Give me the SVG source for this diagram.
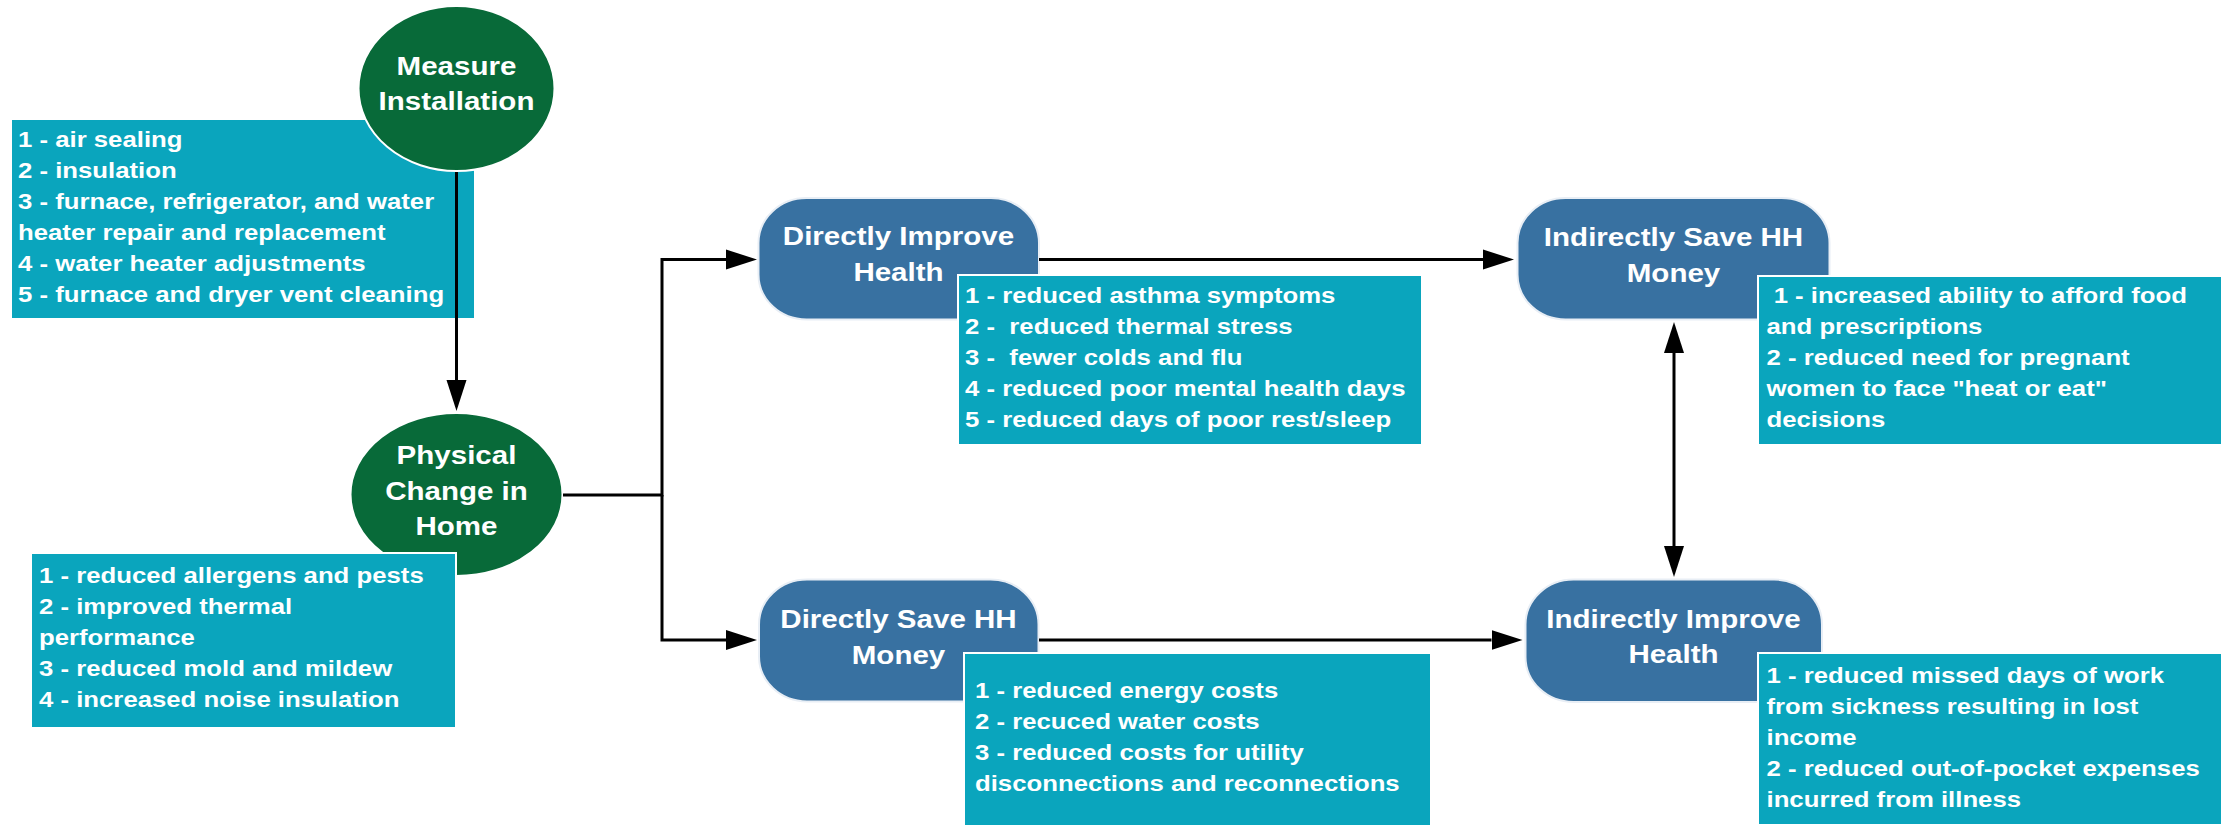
<svg xmlns="http://www.w3.org/2000/svg" width="2233" height="827" viewBox="0 0 2233 827">
<defs>
<style>
.bg{fill:#ffffff}
.green{fill:#086a39;stroke:#ffffff;stroke-width:2}
.blue{fill:#3871a1;stroke:#e8eef5;stroke-width:2}
.box{fill:#0aa5bd;stroke:#ffffff;stroke-width:2}
.nt{font-family:"Liberation Sans",Arial,sans-serif;font-weight:bold;font-size:26.5px;fill:#ffffff;text-anchor:middle}
.bt{font-family:"Liberation Sans",Arial,sans-serif;font-weight:bold;font-size:22px;fill:#ffffff;white-space:pre}
.conn{fill:none;stroke:#000000;stroke-width:3}
</style>
<marker id="ah" markerUnits="userSpaceOnUse" markerWidth="34" markerHeight="24" refX="0" refY="12" orient="auto-start-reverse" viewBox="0 0 34 24">
<path d="M0,2 L31,12 L0,22 z" fill="#000000"/>
</marker>
</defs>
<rect class="bg" x="0" y="0" width="2233" height="827"/>

<g id="box-measure">
<rect class="box" x="11" y="119" width="464" height="200"/>
<text class="bt" transform="matrix(1.17 0 0 1 18 0)" xml:space="preserve"><tspan x="0" y="147.5">1 - air sealing</tspan><tspan x="0" y="178.5">2 - insulation</tspan><tspan x="0" y="209.5">3 - furnace, refrigerator, and water</tspan><tspan x="0" y="240.5">heater repair and replacement</tspan><tspan x="0" y="271.5">4 - water heater adjustments</tspan><tspan x="0" y="302.5">5 - furnace and dryer vent cleaning</tspan></text>
</g>

<g id="node-measure">
<ellipse class="green" cx="456.5" cy="88.5" rx="98" ry="82.5"/>
<text class="nt" transform="matrix(1.115 0 0 1 456.5 0)"><tspan x="0" y="75">Measure</tspan><tspan x="0" y="110.5">Installation</tspan></text>
</g>

<g id="node-physical">
<ellipse class="green" cx="456.5" cy="494.5" rx="106" ry="81.5"/>
<text class="nt" transform="matrix(1.115 0 0 1 456.5 0)"><tspan x="0" y="464">Physical</tspan><tspan x="0" y="500">Change in</tspan><tspan x="0" y="535.5">Home</tspan></text>
</g>

<g id="box-physical">
<rect class="box" x="31" y="553" width="425" height="175"/>
<text class="bt" transform="matrix(1.17 0 0 1 39 0)" xml:space="preserve"><tspan x="0" y="583.5">1 - reduced allergens and pests</tspan><tspan x="0" y="614.5">2 - improved thermal</tspan><tspan x="0" y="645.5">performance</tspan><tspan x="0" y="676.5">3 - reduced mold and mildew</tspan><tspan x="0" y="707.5">4 - increased noise insulation</tspan></text>
</g>

<g id="node-direct-health">
<rect class="blue" x="758.5" y="198" width="280.5" height="121.5" rx="48" ry="45"/>
<text class="nt" transform="matrix(1.115 0 0 1 898.5 0)"><tspan x="0" y="245.5">Directly Improve</tspan><tspan x="0" y="281.5">Health</tspan></text>
</g>
<g id="box-direct-health">
<rect class="box" x="958" y="275" width="464" height="170"/>
<text class="bt" transform="matrix(1.17 0 0 1 965 0)" xml:space="preserve"><tspan x="0" y="303">1 - reduced asthma symptoms</tspan><tspan x="0" y="334">2 -  reduced thermal stress</tspan><tspan x="0" y="365">3 -  fewer colds and flu</tspan><tspan x="0" y="396">4 - reduced poor mental health days</tspan><tspan x="0" y="427">5 - reduced days of poor rest/sleep</tspan></text>
</g>

<g id="node-direct-money">
<rect class="blue" x="759" y="579.5" width="279.5" height="122" rx="48" ry="45"/>
<text class="nt" transform="matrix(1.115 0 0 1 898.5 0)"><tspan x="0" y="628">Directly Save HH</tspan><tspan x="0" y="664">Money</tspan></text>
</g>
<g id="box-direct-money">
<rect class="box" x="964" y="653" width="467" height="173"/>
<text class="bt" transform="matrix(1.17 0 0 1 975 0)" xml:space="preserve"><tspan x="0" y="698">1 - reduced energy costs</tspan><tspan x="0" y="729">2 - recuced water costs</tspan><tspan x="0" y="760">3 - reduced costs for utility</tspan><tspan x="0" y="791">disconnections and reconnections</tspan></text>
</g>

<g id="node-indirect-money">
<rect class="blue" x="1517.5" y="198" width="312" height="121.5" rx="48" ry="45"/>
<text class="nt" transform="matrix(1.115 0 0 1 1673.5 0)"><tspan x="0" y="246">Indirectly Save HH</tspan><tspan x="0" y="282">Money</tspan></text>
</g>
<g id="box-indirect-money">
<rect class="box" x="1758" y="276" width="464" height="169"/>
<text class="bt" transform="matrix(1.17 0 0 1 1766.5 0)" xml:space="preserve"><tspan x="0" y="303"> 1 - increased ability to afford food</tspan><tspan x="0" y="334">and prescriptions</tspan><tspan x="0" y="365">2 - reduced need for pregnant</tspan><tspan x="0" y="396">women to face "heat or eat"</tspan><tspan x="0" y="427">decisions</tspan></text>
</g>

<g id="node-indirect-health">
<rect class="blue" x="1525.5" y="579.5" width="296.5" height="122.5" rx="48" ry="45"/>
<text class="nt" transform="matrix(1.115 0 0 1 1673.5 0)"><tspan x="0" y="628">Indirectly Improve</tspan><tspan x="0" y="663.5">Health</tspan></text>
</g>
<g id="box-indirect-health">
<rect class="box" x="1758" y="653" width="464" height="172"/>
<text class="bt" transform="matrix(1.17 0 0 1 1766.5 0)" xml:space="preserve"><tspan x="0" y="683">1 - reduced missed days of work</tspan><tspan x="0" y="714">from sickness resulting in lost</tspan><tspan x="0" y="745">income</tspan><tspan x="0" y="776">2 - reduced out-of-pocket expenses</tspan><tspan x="0" y="807">incurred from illness</tspan></text>
</g>

<g id="connectors">
<path class="conn" d="M456.5,172 L456.5,380" marker-end="url(#ah)"/>
<path class="conn" d="M563,495 L662,495 L662,259.5 L726,259.5" marker-end="url(#ah)"/>
<path class="conn" d="M662,495 L662,640 L726,640" marker-end="url(#ah)"/>
<path class="conn" d="M1039,259.5 L1483,259.5" marker-end="url(#ah)"/>
<path class="conn" d="M1039,640 L1491.5,640" marker-end="url(#ah)"/>
<path class="conn" d="M1674,353 L1674,546" marker-start="url(#ah)" marker-end="url(#ah)"/>
</g>
</svg>
